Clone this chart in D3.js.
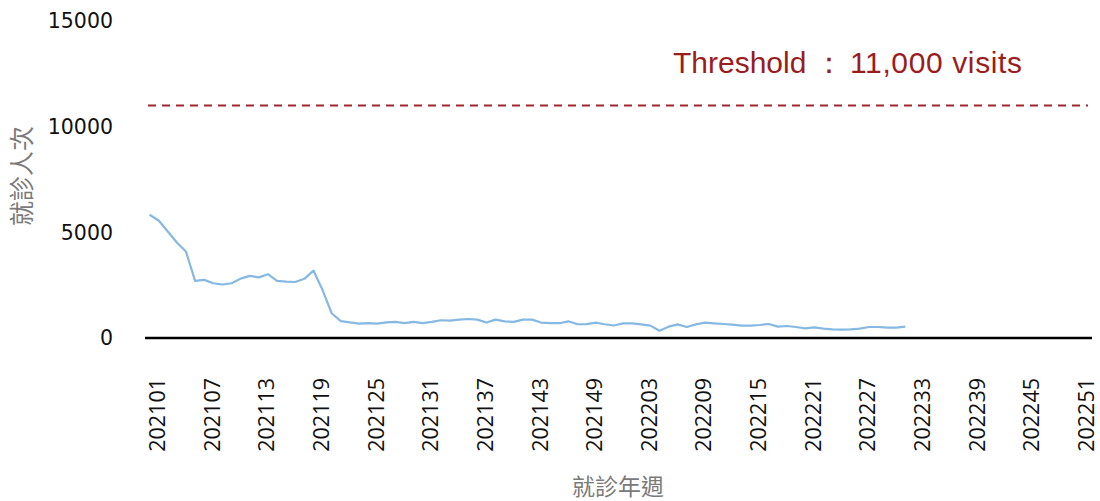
<!DOCTYPE html>
<html><head><meta charset="utf-8">
<script src="https://cdn.jsdelivr.net/npm/d3@7/dist/d3.min.js"></script>
<style>body{margin:0;background:#fff}</style>
</head><body><svg id="c" width="1100" height="501"></svg>
<script>
const weeks = [];
for (const yr of [2021, 2022]) for (let w = 1; w <= 52; w++) weeks.push(yr + String(w).padStart(2, "0"));
const tickLabels = ["202101","202107","202113","202119","202125","202131","202137","202143","202149","202203","202209","202215","202221","202227","202233","202239","202245","202251"];
const visits = [5830,5560,5040,4520,4090,2700,2750,2590,2530,2590,2810,2940,2870,3020,2700,2670,2650,2800,3190,2270,
1170,800,740,680,700,680,740,760,700,760,700,760,840,820,870,900,870,730,870,790,
760,870,870,730,700,700,790,650,660,726,650,590,695,695,647,584,347,537,647,521,
647,726,695,663,632,584,584,616,663,537,568,521,458,505,442,410,395,410,442,521,
521,489,489,537];
const yTicks = [0,5000,10000,15000];
const threshold = 11000;

const svg = d3.select("#c");
const x = d3.scaleBand().domain(weeks).range([145,1092]);
const y = d3.scaleLinear().domain([0,15000]).range([338,21]);
const cx = d => x(d) + x.bandwidth()/2;

// y tick labels
svg.append("g").selectAll("text").data(yTicks).join("text")
  .attr("x",113).attr("y",d=>y(d)).attr("dy","0.36em").attr("text-anchor","end")
  .attr("font-family","DejaVu Sans").attr("font-size",20.5).attr("fill","#111").text(d=>d);

// threshold
svg.append("line").attr("x1",148).attr("x2",1088).attr("y1",y(threshold)).attr("y2",y(threshold))
  .attr("stroke","#a0282c").attr("stroke-width",2).attr("stroke-dasharray","8,6");
const tt = svg.append("text").attr("y",73).attr("font-family","Liberation Sans, Arial").attr("font-size",30)
  .attr("fill","#9b1c1c");
tt.append("tspan").attr("x",673).text("Threshold");
tt.append("tspan").attr("x",814).text("：");
tt.append("tspan").attr("x",850).attr("textLength",172).text("11,000 visits");

// line
const line = d3.line().x((d,i)=>cx(weeks[i])).y(d=>y(d));
svg.append("path").datum(visits).attr("d",line).attr("fill","none")
  .attr("stroke","#86b9e1").attr("stroke-width",2.2).attr("stroke-linejoin","round");

// x axis line
svg.append("line").attr("x1",145).attr("x2",1092).attr("y1",y(0)).attr("y2",y(0)).attr("stroke","#000").attr("stroke-width",2.5);

// x tick labels
svg.append("g").selectAll("text").data(tickLabels).join("text")
  .attr("transform",d=>`translate(${cx(d)+8},378) rotate(-90)`)
  .attr("text-anchor","end").attr("dy","0.35em")
  .attr("font-family","Open Sans").attr("font-size",21.5).attr("fill","#111").text(d=>d);

// axis titles
svg.append("text").attr("transform","translate(22,176) rotate(-90)").attr("text-anchor","middle").attr("dy","0.35em")
  .attr("font-family","Noto Sans CJK TC").attr("font-size",25).attr("fill","#7a7a7a").text("就診人次");
svg.append("text").attr("x",618).attr("y",495).attr("text-anchor","middle")
  .attr("font-family","Noto Sans CJK TC").attr("font-size",23).attr("fill","#7a7a7a").text("就診年週");
</script></body></html>
